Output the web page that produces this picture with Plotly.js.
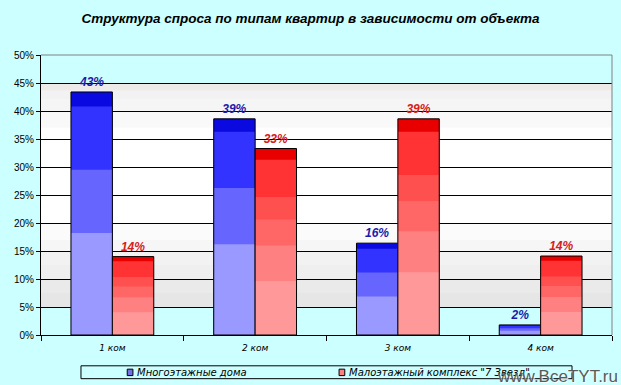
<!DOCTYPE html>
<html><head><meta charset="utf-8">
<script src="https://cdn.plot.ly/plotly-3.0.1.min.js"></script>
<style>html,body{margin:0;padding:0;background:#ccffff}#c{width:621px;height:385px}</style>
</head><body><div id="c"></div>
<script>
var categories = ['1 ком', '2 ком', '3 ком', '4 ком'];
var seriesNames = ['Многоэтажные дома', 'Малоэтажный комплекс "7 Звезд"'];
var multiStorey = [43.4, 38.6, 16.4, 1.8];
var lowRise = [14.0, 33.3, 38.6, 14.1];
var yTickVals = [0, 5, 10, 15, 20, 25, 30, 35, 40, 45, 50];

var FONT = 'Liberation Sans, Arial, sans-serif';
var WIDE = 'DejaVu Sans, sans-serif';
var W = 0.29;
var blueBands = [[1, '#0a0ae0'], [0.94, '#3333ff'], [0.68, '#6666ff'], [0.42, '#9999ff']];
var redBands = [[1, '#e80000'], [0.94, '#ff3333'], [0.74, '#ff5050'], [0.62, '#ff6666'], [0.48, '#ff8080'], [0.29, '#ff9999']];

var traces = [];
function addSeries(vals, bands, offset, labelColor) {
  bands.forEach(function (b) {
    traces.push({type: 'bar', x: categories, y: vals.map(function (v) { return v * b[0]; }),
      offset: offset, width: W, marker: {color: b[1], line: {width: 0}},
      showlegend: false, hoverinfo: 'skip'});
  });
  traces.push({type: 'bar', x: categories, y: vals, offset: offset, width: W,
    marker: {color: 'rgba(0,0,0,0)', line: {color: '#000', width: 1}},
    text: vals.map(function (v) { return Math.round(v) + '%'; }),
    textposition: 'outside', cliponaxis: false,
    textfont: {family: FONT, size: 12, color: labelColor, weight: 'bold', style: 'italic'},
    showlegend: false});
}
addSeries(multiStorey, blueBands, -W, '#1c1ca8');
addSeries(lowRise, redBands, 0, '#d42020');

var bgBands = [[45, 50, '#ccffff'], [43.6, 45, '#eeeae7'], [42, 43.6, '#f2f2f2'], [40, 42, '#f5f5f5'],
  [37, 40, '#f9f9f9'], [20, 37, '#ffffff'], [17, 20, '#fbfbfb'], [15, 17, '#f6f6f6'],
  [12.5, 15, '#f2f2f2'], [10, 12.5, '#efefef'], [7.5, 10, '#eaeaea'], [5, 7.5, '#e6e6e6'], [0, 5, '#ccffff']];
var shapes = bgBands.map(function (b) {
  return {type: 'rect', xref: 'paper', yref: 'y', x0: 0, x1: 1, y0: b[0], y1: b[1],
    fillcolor: b[2], line: {width: 0}, layer: 'below'};
});
shapes.push({type: 'line', xref: 'paper', yref: 'paper', x0: 0, x1: 1, y0: 1, y1: 1, line: {color: '#808080', width: 1}});
shapes.push({type: 'line', xref: 'paper', yref: 'paper', x0: 1, x1: 1, y0: 0, y1: 1, line: {color: '#808080', width: 1}});
// legend box
shapes.push({type: 'rect', xref: 'paper', yref: 'paper', x0: 0.070, x1: 0.930, y0: -0.156, y1: -0.110,
  line: {color: '#000', width: 1}, fillcolor: 'rgba(0,0,0,0)'});
shapes.push({type: 'rect', xref: 'paper', yref: 'paper', x0: 0.151, x1: 0.161, y0: -0.145, y1: -0.122,
  line: {color: '#000', width: 1}, fillcolor: '#7070e0'});
shapes.push({type: 'rect', xref: 'paper', yref: 'paper', x0: 0.522, x1: 0.532, y0: -0.145, y1: -0.122,
  line: {color: '#000', width: 1}, fillcolor: '#ff8080'});

var annotations = [
  {xref: 'paper', yref: 'paper', x: 0.165, y: -0.133, xanchor: 'left', yanchor: 'middle', showarrow: false,
    text: seriesNames[0], font: {family: WIDE, size: 10, color: '#000', style: 'italic'}},
  {xref: 'paper', yref: 'paper', x: 0.536, y: -0.133, xanchor: 'left', yanchor: 'middle', showarrow: false,
    text: seriesNames[1], font: {family: WIDE, size: 10, color: '#000', style: 'italic'}},
  {xref: 'paper', yref: 'paper', x: 1.014, y: -0.148, xanchor: 'right', yanchor: 'middle', showarrow: false,
    text: 'www.BceTYT.ru', font: {family: FONT, size: 17, color: '#5a5a5a', shadow: '1px 1px 1px #ffffff'}}
];

var layout = {
  width: 621, height: 385,
  margin: {l: 41, r: 9, t: 55, b: 50},
  paper_bgcolor: '#ccffff', plot_bgcolor: '#ffffff',
  barmode: 'overlay',
  title: {text: 'Структура спроса по типам квартир в зависимости от объекта',
    x: 0.5, xanchor: 'center', y: 0.952, yanchor: 'middle',
    font: {family: FONT, size: 13.5, color: '#000', weight: 'bold', style: 'italic'}},
  xaxis: {type: 'category', categoryorder: 'array', categoryarray: categories, range: [-0.5, 3.5],
    showline: true, linecolor: '#000', linewidth: 1, ticks: 'outside', tickson: 'boundaries',
    ticklen: 5, tickcolor: '#000', showgrid: false, ticklabelstandoff: 4,
    tickfont: {family: WIDE, size: 9, color: '#000', style: 'italic'}},
  yaxis: {range: [0, 50], tickvals: yTickVals, ticktext: yTickVals.map(function (v) { return v + '%'; }),
    showgrid: true, gridcolor: '#000', gridwidth: 1, zeroline: false,
    showline: true, linecolor: '#000', linewidth: 1, ticks: 'outside', ticklen: 4, tickcolor: '#000',
    tickfont: {family: FONT, size: 10, color: '#000'}},
  shapes: shapes,
  annotations: annotations,
  showlegend: false
};
Plotly.newPlot('c', traces, layout, {displayModeBar: false, staticPlot: true});
</script></body></html>
